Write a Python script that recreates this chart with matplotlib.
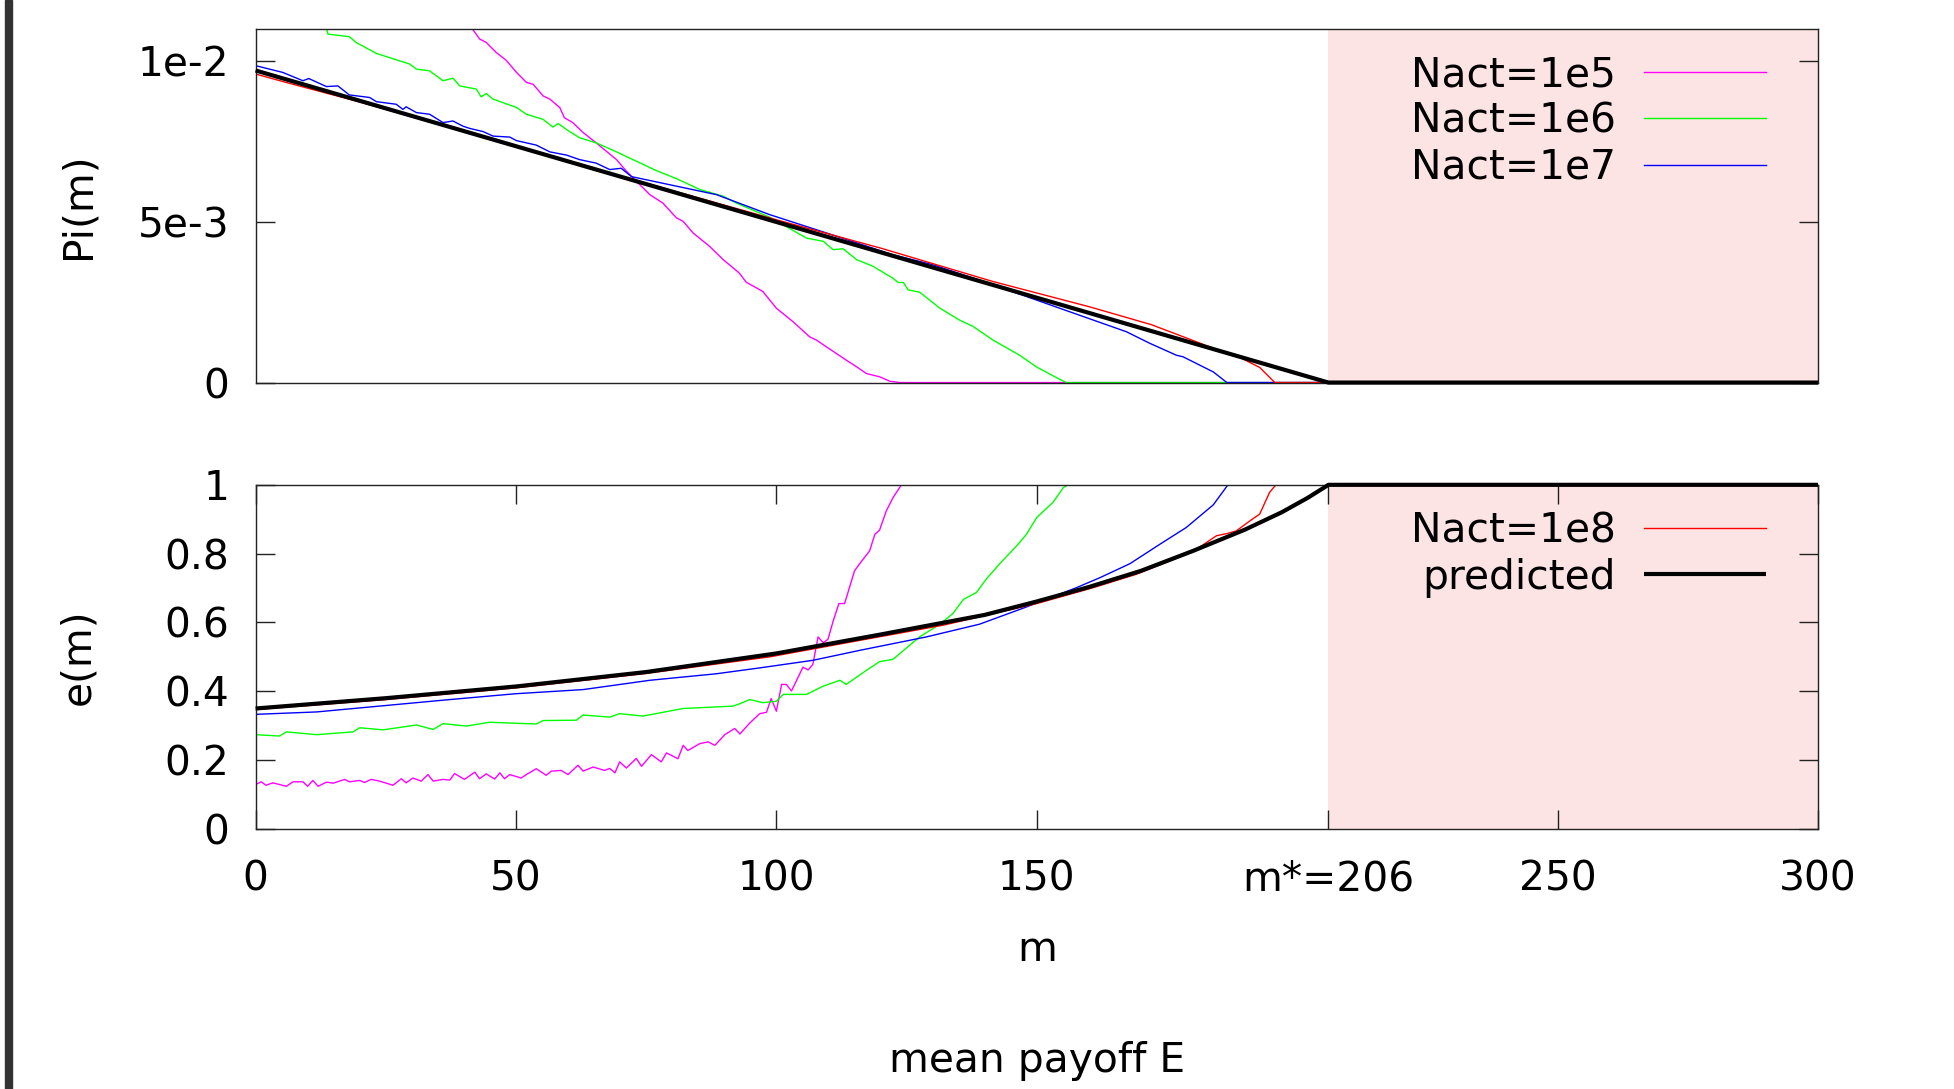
import numpy as np
import matplotlib
matplotlib.use("Agg")
import matplotlib.pyplot as plt
from matplotlib.patches import Rectangle

# ---- data (m, value) ----
# upper panel: Pi(m), values in units of 1e-3
pi_m_1e5 = [41.6, 43, 44.3, 46.2, 48.1, 50.1, 52, 53.3, 55.2, 56.5, 58.4, 59.3, 60.9, 62.9, 65.4, 69.3,
            71.2, 73.1, 75.7, 78.2, 80.8, 82.1, 84, 87.2, 89.8, 92.9, 94.2, 97.4, 100, 103.2, 106.4,
            107.7, 109.6, 113.4, 115.4, 117.3, 119.8, 121.8, 123.7, 300]
pi_1e5 = [11.0, 10.68, 10.57, 10.26, 10.02, 9.64, 9.33, 9.27, 8.91, 8.81, 8.55, 8.23, 8.08, 7.77, 7.45, 6.93,
          6.57, 6.26, 5.84, 5.58, 5.12, 5.01, 4.65, 4.23, 3.82, 3.40, 3.12, 2.83, 2.31, 1.89, 1.42,
          1.32, 1.11, 0.70, 0.49, 0.28, 0.18, 0.04, 0.0, 0.0]

pi_m_1e6 = [13.6, 13.9, 18, 19.3, 23.2, 25.1, 29.6, 30.9, 33.4, 36, 37.9, 39.2, 42.4, 43.3, 44.3, 45.6,
            50.1, 52, 55.2, 57.1, 58.1, 60.3, 62.2, 65.4, 69.3, 73.1, 76.9, 80.8, 85.3, 89.8, 92.3, 96.8,
            98.7, 105.8, 109, 110.9, 112.8, 115.4, 118.6, 122.4, 123.4, 124.4, 125.3, 127.5, 131.4, 135.2,
            137.8, 141.6, 146.7, 149.9, 154.4, 155.7, 300]
pi_1e6 = [11.0, 10.83, 10.75, 10.57, 10.23, 10.13, 9.90, 9.74, 9.69, 9.38, 9.46, 9.22, 9.12, 8.88, 8.98, 8.81,
          8.55, 8.34, 8.18, 7.94, 8.05, 7.80, 7.61, 7.45, 7.17, 6.88, 6.59, 6.34, 6.0, 5.79, 5.58, 5.27,
          5.14, 4.49, 4.39, 4.13, 4.16, 3.82, 3.61, 3.24, 3.11, 3.11, 2.88, 2.81, 2.31, 1.94,
          1.74, 1.32, 0.85, 0.49, 0.10, 0.0, 0.0]

pi_m_1e7 = [0, 5.2, 9.1, 10.2, 13.6, 15.8, 18, 21.9, 23.2, 27, 28.3, 28.9, 30.9, 33.4, 36, 37.9, 39.8,
            41.1, 43.7, 45.6, 48.8, 50.1, 53.9, 56.5, 59.7, 62.2, 65.4, 68, 70.2, 72.2, 75.7, 88.5, 98.7,
            109.6, 122.4, 130.1, 141.6, 154.4, 167.2, 171.7, 176.8, 178.1, 183.9, 186.5, 300]
pi_1e7 = [9.85, 9.64, 9.38, 9.45, 9.20, 9.22, 8.94, 8.86, 8.73, 8.65, 8.49, 8.57, 8.39, 8.34, 8.08, 8.13, 7.97,
          7.90, 7.80, 7.66, 7.63, 7.52, 7.38, 7.17, 7.07, 6.93, 6.82, 6.62, 6.66, 6.40, 6.28, 5.84, 5.22,
          4.65, 3.97, 3.66, 3.04, 2.31, 1.58, 1.22, 0.85, 0.80, 0.33, 0.0, 0.0]

pi_m_1e8 = [0, 6.5, 20, 40, 60, 80, 100, 120, 141.6, 160, 172, 183.2, 186.4, 189, 192.8, 195.7, 300]
pi_1e8 = [9.59, 9.30, 8.72, 7.80, 6.88, 5.97, 5.06, 4.18, 3.14, 2.36, 1.80, 1.11, 0.90, 0.78, 0.47, 0.0, 0.0]

pred_pi_m = [0, 206, 300]
pred_pi = [9.7, 0.0, 0.0]

# lower panel: e(m)
e_m_1e5 = [0, 1.1, 2, 3.3, 5.9, 7.2, 9.1, 10, 11, 12, 13.6, 14.9, 17.1, 18, 20, 20.9, 22.2, 23.8, 26.4, 28,
           28.9, 30.2, 31.8, 33.1, 34.1, 36, 37.3, 38.2, 40.1, 42.1, 43, 44.3, 45.9, 46.9, 47.8, 48.8, 51,
           52, 53.9, 55.8, 56.8, 58.7, 60, 61.9, 62.9, 64.8, 67, 68, 69, 69.9, 71.2, 73.1, 74.1, 76, 77.9,
           78.9, 81.1, 82.1, 83, 85.3, 86.9, 88.2, 90.1, 92, 93, 94.9, 96.8, 98.1, 99, 100, 101, 101.9,
           102.9, 105.1, 106.1, 107, 108, 109, 109.9, 110.9, 112, 113.1, 115, 116, 117.9, 118.9, 119.8,
           121.1, 122.4, 124, 300]
e_1e5 = [0.129, 0.137, 0.127, 0.134, 0.124, 0.137, 0.137, 0.124, 0.141, 0.124, 0.136, 0.133, 0.144, 0.137,
         0.141, 0.135, 0.144, 0.139, 0.127, 0.146, 0.134, 0.148, 0.139, 0.158, 0.139, 0.144, 0.142, 0.161,
         0.144, 0.165, 0.146, 0.160, 0.145, 0.163, 0.146, 0.158, 0.148, 0.158, 0.175, 0.156, 0.168, 0.170,
         0.158, 0.185, 0.168, 0.180, 0.170, 0.176, 0.163, 0.195, 0.177, 0.205, 0.182, 0.216, 0.195, 0.221,
         0.204, 0.243, 0.228, 0.248, 0.253, 0.243, 0.274, 0.292, 0.276, 0.308, 0.335, 0.339, 0.379, 0.342,
         0.420, 0.420, 0.401, 0.470, 0.462, 0.478, 0.558, 0.541, 0.551, 0.604, 0.655, 0.655, 0.750, 0.771,
         0.808, 0.856, 0.868, 0.924, 0.963, 1.0, 1.0]

e_m_1e6 = [0, 4.6, 5.9, 11.7, 18.7, 20, 24.5, 30.9, 34.1, 36, 40.5, 44.9, 53.9, 55.2, 61.6, 62.9, 68, 69.9,
           74.4, 82.1, 91.7, 93, 94.9, 97.4, 100, 101.3, 105.8, 109, 112.2, 113.4, 117.3, 119.8, 122.4,
           127.5, 131.4, 133.9, 135.9, 138.4, 140.3, 142.9, 146.1, 148, 150, 153.1, 155.1, 156, 300]
e_1e6 = [0.274, 0.270, 0.282, 0.274, 0.282, 0.294, 0.288, 0.302, 0.289, 0.306, 0.299, 0.310, 0.305, 0.315,
         0.316, 0.331, 0.325, 0.335, 0.328, 0.350, 0.357, 0.364, 0.376, 0.367, 0.371, 0.391, 0.391, 0.415,
         0.432, 0.420, 0.461, 0.486, 0.493, 0.558, 0.595, 0.626, 0.667, 0.687, 0.726, 0.771, 0.822, 0.856,
         0.905, 0.949, 0.992, 1.0, 1.0]

e_m_1e7 = [0, 11.7, 24.5, 37.3, 50, 62.9, 75.7, 88.5, 96.8, 107, 116, 128.8, 139, 148, 157.6, 162.1, 167.9,
           173.6, 178.7, 183.9, 186.7, 300]
e_1e7 = [0.333, 0.340, 0.358, 0.376, 0.393, 0.405, 0.432, 0.451, 0.468, 0.490, 0.519, 0.558, 0.595, 0.645,
         0.701, 0.730, 0.771, 0.827, 0.876, 0.942, 1.0, 1.0]

e_m_1e8 = [0, 25, 50, 75, 98.7, 116, 132, 150, 160.8, 169.1, 180, 184.5, 186.4, 188.3, 190.9, 192.8, 194.7,
           195.9, 300]
e_1e8 = [0.347, 0.376, 0.410, 0.452, 0.500, 0.548, 0.592, 0.655, 0.701, 0.740, 0.806, 0.852, 0.858, 0.866,
         0.895, 0.915, 0.978, 1.0, 1.0]

pred_e_m = [0, 25, 50, 75, 100, 120, 140, 150, 160, 170, 180, 190, 197, 202, 206, 300]
pred_e = [0.350, 0.380, 0.414, 0.456, 0.510, 0.565, 0.622, 0.661, 0.703, 0.750, 0.808, 0.870, 0.920, 0.962,
          1.0, 1.0]

m_star = 206
x_ticks = [0, 50, 100, 150, 206, 250, 300]
x_ticklabels = ["0", "50", "100", "150", "m*=206", "250", "300"]

labels = ["Nact=1e5", "Nact=1e6", "Nact=1e7", "Nact=1e8", "predicted"]
colors = ["#ff00ff", "#00ff00", "#0000ff", "#ff0000", "black"]

FS = 29.3

fig = plt.figure(figsize=(19.54, 10.89), dpi=100)
ax1 = fig.add_axes([0.1308, 0.6487, 0.7996, 0.3250])
ax2 = fig.add_axes([0.1308, 0.2388, 0.7996, 0.3160])

# dark bar at the left edge of the screenshot
fig.patches.append(Rectangle((5 / 1954, 0), 7 / 1954, 1, transform=fig.transFigure,
                             color="#333333", zorder=0))

sim_pi = [(pi_m_1e5, pi_1e5), (pi_m_1e6, pi_1e6), (pi_m_1e7, pi_1e7), (pi_m_1e8, pi_1e8)]
sim_e = [(e_m_1e5, e_1e5), (e_m_1e6, e_1e6), (e_m_1e7, e_1e7), (e_m_1e8, e_1e8)]

h1 = []
for (xm, yv), c, lab in zip(sim_pi, colors, labels):
    ln, = ax1.plot(xm, np.array(yv) * 1e-3, color=c, lw=1.0, label=lab, zorder=2)
    h1.append(ln)
ax1.plot(pred_pi_m, np.array(pred_pi) * 1e-3, color="black", lw=3.0, zorder=3,
         clip_on=False, solid_capstyle="butt")

h2 = []
for (xm, yv), c, lab in zip(sim_e, colors, labels):
    ln, = ax2.plot(xm, yv, color=c, lw=1.0, label=lab, zorder=2)
    h2.append(ln)
lp, = ax2.plot(pred_e_m, pred_e, color="black", lw=3.0, zorder=3, clip_on=False,
               solid_capstyle="butt", label=labels[4])

for ax in (ax1, ax2):
    ax.axvspan(m_star, 300, color="#fde4e4", zorder=0, lw=0)
    ax.set_xlim(0, 300)
    for s in ax.spines.values():
        s.set_linewidth(1.0)
        s.set_color("#222222")
    ax.tick_params(axis="y", direction="in", length=14, width=1.0, left=True, right=True,
                   labelsize=FS, pad=19, colors="#222222", labelcolor="black")

ax1.set_ylim(0, 0.011)
ax1.set_yticks([0, 5e-3, 1e-2])
ax1.set_yticklabels(["0", "5e-3", "1e-2"])
ax1.tick_params(axis="x", bottom=False, top=False, labelbottom=False)

ax2.set_ylim(0, 1)
ax2.set_yticks([0, 0.2, 0.4, 0.6, 0.8, 1.0])
ax2.set_yticklabels(["0", "0.2", "0.4", "0.6", "0.8", "1"])
ax2.set_xticks(x_ticks)
ax2.set_xticklabels(x_ticklabels)
ax2.tick_params(axis="x", direction="in", length=14, width=1.0, top=True, bottom=True,
                labelsize=FS, pad=22, colors="#222222", labelcolor="black")

leg_kw = dict(loc="upper right", frameon=False, markerfirst=False, fontsize=FS, handlelength=3.0,
              handletextpad=0.69, labelspacing=0.155, borderpad=0, borderaxespad=0)
ax1.legend(handles=h1[:3], bbox_to_anchor=(0.9667, 0.925), **leg_kw).set_zorder(5)
ax2.legend(handles=[h2[3], lp], bbox_to_anchor=(0.9667, 0.923), **leg_kw).set_zorder(5)

fig.text(0.0402, 0.811, "Pi(m)", rotation=90, ha="center", va="center", fontsize=FS)
fig.text(0.0402, 0.397, "e(m)", rotation=90, ha="center", va="center", fontsize=FS)
fig.text(0.5306, 0.1175, "m", ha="center", va="baseline", fontsize=FS)
fig.text(0.5306, 0.0156, "mean payoff E", ha="center", va="baseline", fontsize=FS)

fig.savefig("out.png", dpi=100)
